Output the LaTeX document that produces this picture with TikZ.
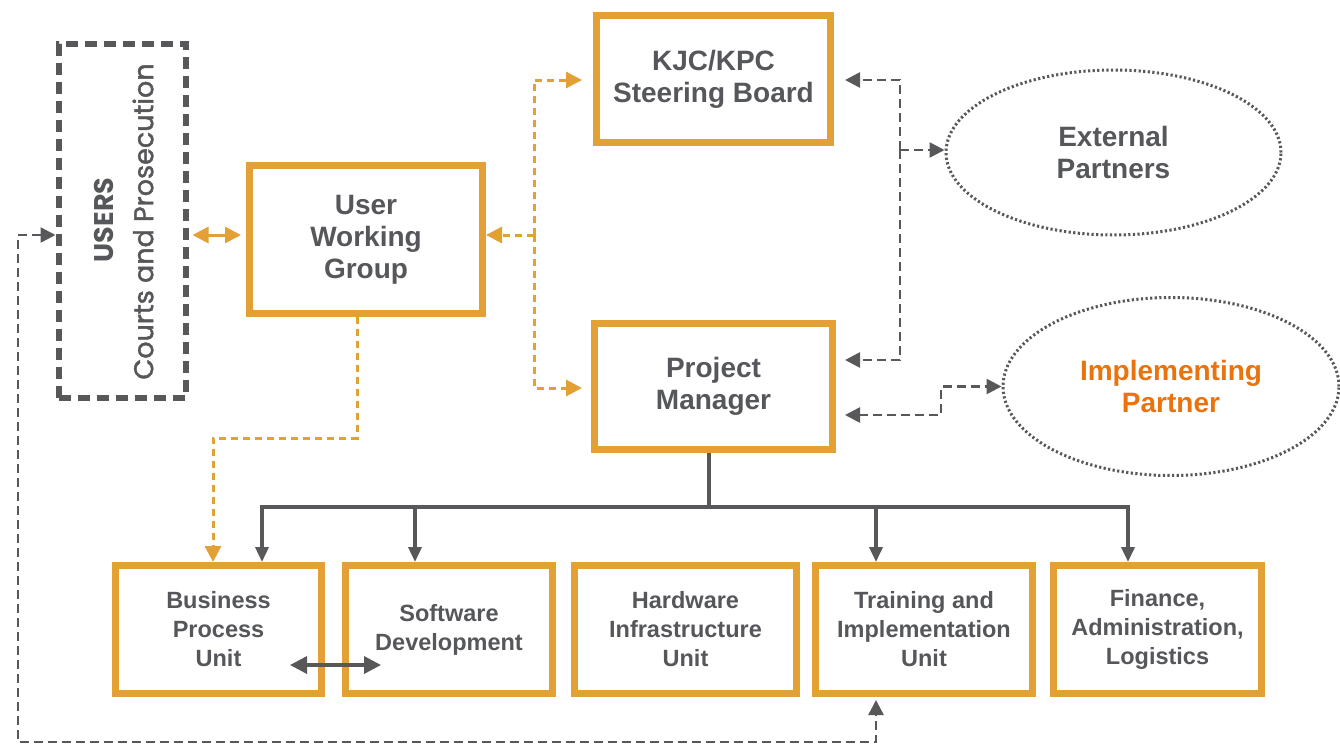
\documentclass[tikz,border=0pt]{standalone}
\usepackage{fontspec}
\setmainfont{Liberation Sans}
\newfontfamily\gothic{Poppins}
\newfontfamily\gothicmed[FakeBold=1.6]{Poppins}
\usetikzlibrary{arrows.meta,shapes.geometric,calc}
\definecolor{orng}{HTML}{E3A035}
\definecolor{txt}{HTML}{56575A}
\definecolor{dk}{HTML}{58585A}
\definecolor{iporange}{HTML}{E8730F}
\tikzset{
  otip/.tip={Triangle[length=16pt,width=16pt]},
  gtip/.tip={Triangle[length=15pt,width=15pt]},
  ttip/.tip={Triangle[length=15pt,width=13pt]},
  btip/.tip={Triangle[length=17pt,width=17pt]}
}
\begin{document}
\begin{tikzpicture}[x=1pt,y=-1pt,
  box/.style={draw=orng, line width=7pt, rectangle, inner sep=0pt, text=txt, align=center,
    font=\fontsize{28}{32}\selectfont\bfseries},
  unitbox/.style={box, minimum height=128pt, font=\fontsize{23.5}{29}\selectfont\bfseries},
  usersbox/.style={draw=dk, line width=6pt, dash pattern=on 12pt off 7pt, rectangle, inner sep=0pt},
  userstext/.style={rotate=90, text=txt, inner sep=0pt},
  ell/.style={draw=dk, line width=3pt, dash pattern=on 2.2pt off 2.4pt, ellipse, inner sep=0pt,
    text=txt, align=center, font=\fontsize{28}{32}\selectfont\bfseries},
  odash/.style={draw=orng, line width=3pt, dash pattern=on 7pt off 5pt},
  gdash/.style={draw=dk, line width=2.6pt, dash pattern=on 9pt off 5pt},
  tree/.style={draw=dk, line width=3.5pt}
]
\useasboundingbox[fill=white] (0,0) rectangle (1340,747);

% nodes
\node[usersbox, minimum width=127pt, minimum height=354pt] (users) at (122,220.5) {};
\node[userstext, font=\gothic\bfseries\fontsize{27}{30}\selectfont] (userst1) at (104,220) {USERS};
\node[userstext, font=\gothicmed\fontsize{27}{30}\selectfont] (userst2) at (143,221.5) {Courts and Prosecution};
\node[box, minimum width=233pt, minimum height=148pt] (uwg) at (366,239.5) {User\\Working\\Group};
\node[box, minimum width=234pt, minimum height=127pt] (kjc) at (713.5,79) {KJC/KPC\\Steering Board};
\node[box, minimum width=238pt, minimum height=126pt] (pm) at (713.5,386.5) {Project\\Manager};
\node[ell, minimum width=335pt, minimum height=165pt] (ext) at (1113.5,152.5) {External\\Partners};
\node[ell, minimum width=336pt, minimum height=178pt, text=iporange] (imp) at (1171,386.5) {Implementing\\Partner};

\node[unitbox, minimum width=206pt] (bpu) at (218.5,629.5) {Business\\Process\\Unit};
\node[unitbox, minimum width=207pt] (sd) at (449,629.5) {Software\\Development};
\node[unitbox, minimum width=222pt] (hiu) at (685.5,629.5) {Hardware\\Infrastructure\\Unit};
\node[unitbox, minimum width=217pt] (tiu) at (924,629.5) {Training and\\Implementation\\Unit};
\node[unitbox, minimum width=208pt] (fal) at (1157.5,629.5) {Finance,\\Administration,\\Logistics};

% helper coordinates
\coordinate (uy) at (0,235);
\coordinate (ja) at (534,235);
\coordinate (jb) at (900,150);
\coordinate (jc) at (941,0);
\coordinate (jd) at (213,438);
\coordinate (je) at (18,742);
\coordinate (tb) at (709,507);

% orange connectors
\draw[odash, otip-otip, solid] ($(users.east |- uy)+(4,0)$) -- ($(uwg.west |- uy)+(-5,0)$);
\draw[odash, -otip] (ja) -- (uwg.east |- ja);
\draw[odash, -otip] (ja) |- ($(kjc.west)+(-11,1)$);
\draw[odash, -otip] (ja) |- ($(pm.west)+(-9,1.5)$);
\draw[odash, -otip] ($(uwg.south)+(-9,0)$) |- (jd) -- (jd |- bpu.north);

% grey connectors
\draw[gdash, -gtip] (jb) |- ($(kjc.east)+(11,1)$);
\draw[gdash, -gtip] (jb) |- ($(pm.east)+(9,-26.5)$);
\draw[gdash, -gtip] (jb) -- (ext.west |- jb);
\draw[gdash, gtip-gtip] ($(pm.east)+(9,28.5)$) -| (jc |- imp.west) -- (imp.west);
\draw[gdash, gtip-gtip] (users.west |- uy) -| (je) -| ($(tiu.south)+(-48,3)$);

% tree
\draw[tree] (tb |- pm.south) -- (tb);
\draw[tree, -ttip] (tb) -| ($(bpu.north)+(43.5,0)$);
\draw[tree, -ttip] (tb) -| ($(sd.north)+(-34,0)$);
\draw[tree, -ttip] (tb) -| ($(tiu.north)+(-48,0)$);
\draw[tree, -ttip] (tb) -| ($(fal.north)+(-29.5,0)$);

% BPU <-> SD
\draw[draw=dk, line width=3.5pt, btip-btip]
  ($(bpu.east)+(-35,35.5)$) -- ($(sd.west)+(39,35.5)$);
\end{tikzpicture}
\end{document}
